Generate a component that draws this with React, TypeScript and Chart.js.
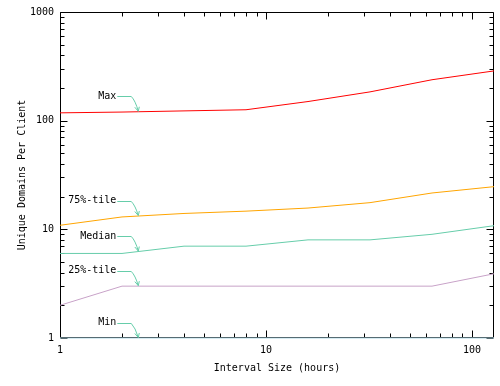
import React, { useEffect, useRef } from "react";
import { Chart, registerables } from "chart.js";

Chart.register(...registerables);

const intervals = [1, 2, 4, 8, 16, 32, 64, 128];
const maxVals = [118, 120, 123, 126, 150, 184, 238, 287];
const p75Vals = [10.9, 13, 14, 14.7, 15.7, 17.6, 21.6, 24.7];
const medianVals = [6, 6, 7, 7, 8, 8, 9, 10.8];
const p25Vals = [2, 3, 3, 3, 3, 3, 3, 3.9];
const minVals = [1, 1, 1, 1, 1, 1, 1, 1];

const seriesNames = ["Max", "75%-tile", "Median", "25%-tile", "Min"];
const seriesColors = ["#ff0000", "#ffa500", "#66cdaa", "#c8a2c8", "#add8e6"];
const labelAtX = 2.4;

const yTickLabels = ["1", "10", "100", "1000"];
const xTickLabels = ["1", "10", "100"];
const xTitle = "Interval Size (hours)";
const yTitle = "Unique Domains Per Client";

const FONT = '10px "DejaVu Sans Mono", monospace';

function interpLog(xs: number[], ys: number[], x: number): number {
  const lx = Math.log10(x);
  for (let i = 0; i < xs.length - 1; i++) {
    const a = Math.log10(xs[i]);
    const b = Math.log10(xs[i + 1]);
    if (lx >= a && lx <= b) {
      const t = (lx - a) / (b - a);
      const ya = Math.log10(ys[i]);
      const yb = Math.log10(ys[i + 1]);
      return Math.pow(10, ya + t * (yb - ya));
    }
  }
  return ys[ys.length - 1];
}

export default function App() {
  const ref = useRef<HTMLCanvasElement | null>(null);

  useEffect(() => {
    document.body.style.margin = "0";
    const canvas = ref.current;
    if (!canvas) return;
    const allSeries = [maxVals, p75Vals, medianVals, p25Vals, minVals];

    const framePlugin = {
      id: "frame",
      beforeDatasetsDraw(chart: any) {
        const { ctx, chartArea } = chart;
        const { left, right, top, bottom } = chartArea;
        const xs = chart.scales.x;
        const ys = chart.scales.y;
        ctx.save();
        ctx.strokeStyle = "#000";
        ctx.lineWidth = 1;
        ctx.beginPath();
        const L = Math.round(left) + 0.5;
        const R = Math.round(right) - 0.5;
        const T = Math.round(top) + 0.5;
        const B = Math.round(bottom) - 0.5;
        ctx.rect(L, T, R - L, B - T);
        ctx.stroke();
        // y ticks
        ctx.beginPath();
        for (let d = 1; d <= 1000; d *= 10) {
          for (let m = 1; m <= 9; m++) {
            const v = d * m;
            if (v > 1000) break;
            const py = Math.round(ys.getPixelForValue(v)) + 0.5;
            const len = m === 1 ? 7 : 4;
            ctx.moveTo(L, py);
            ctx.lineTo(L + len, py);
            ctx.moveTo(R, py);
            ctx.lineTo(R - len, py);
          }
        }
        // x ticks
        for (let d = 1; d <= 100; d *= 10) {
          for (let m = 1; m <= 9; m++) {
            const v = d * m;
            if (v > 128) break;
            const px = Math.round(xs.getPixelForValue(v)) + 0.5;
            const len = m === 1 ? 7 : 4;
            ctx.moveTo(px, B);
            ctx.lineTo(px, B - len);
            ctx.moveTo(px, T);
            ctx.lineTo(px, T + len);
          }
        }
        ctx.stroke();
        ctx.restore();
      },
      afterDraw(chart: any) {
        const { ctx, chartArea } = chart;
        const { left, right, top, bottom } = chartArea;
        const xs = chart.scales.x;
        const ys = chart.scales.y;
        ctx.save();
        ctx.font = FONT;
        ctx.fillStyle = "#000";
        // y tick labels
        ctx.textAlign = "right";
        ctx.textBaseline = "middle";
        yTickLabels.forEach((t) => {
          ctx.fillText(t, left - 6, ys.getPixelForValue(Number(t)));
        });
        // x tick labels
        ctx.textAlign = "center";
        ctx.textBaseline = "middle";
        xTickLabels.forEach((t) => {
          ctx.fillText(t, xs.getPixelForValue(Number(t)), bottom + 12);
        });
        // titles
        ctx.fillText(xTitle, (left + right) / 2, bottom + 30);
        ctx.save();
        ctx.translate(22, (top + bottom) / 2);
        ctx.rotate(-Math.PI / 2);
        ctx.fillText(yTitle, 0, 0);
        ctx.restore();
        // annotations
        const tipX = xs.getPixelForValue(labelAtX);
        seriesNames.forEach((name, i) => {
          const v = interpLog(intervals, allSeries[i], labelAtX);
          const tipY = ys.getPixelForValue(v) - 0.5;
          const ty = tipY - 15;
          ctx.fillStyle = "#000";
          ctx.textAlign = "right";
          ctx.textBaseline = "middle";
          ctx.fillText(name, tipX - 22, ty);
          ctx.strokeStyle = "#66cdaa";
          ctx.lineWidth = 1;
          ctx.beginPath();
          const hy = Math.round(ty) + 0.5;
          ctx.moveTo(tipX - 21, hy);
          ctx.lineTo(tipX - 7, hy);
          ctx.quadraticCurveTo(tipX - 3, hy + 4, tipX, tipY);
          ctx.stroke();
          ctx.beginPath();
          ctx.moveTo(tipX - 3.5, tipY - 4);
          ctx.lineTo(tipX, tipY);
          ctx.lineTo(tipX + 1, tipY - 4.5);
          ctx.stroke();
        });
        ctx.restore();
      },
    };

    const chart = new Chart(canvas, {
      type: "line",
      data: {
        labels: intervals,
        datasets: allSeries.map((vals, i) => ({
          label: seriesNames[i],
          data: intervals.map((x, j) => ({ x, y: vals[j] })),
          borderColor: seriesColors[i],
          backgroundColor: seriesColors[i],
          borderWidth: 1,
          pointRadius: 0,
          tension: 0,
          fill: false,
          clip: false as any,
        })),
      },
      options: {
        animation: false,
        responsive: false,
        maintainAspectRatio: false,
        layout: { padding: { left: 60, right: 6, top: 12, bottom: 48 } },
        plugins: { legend: { display: false }, tooltip: { enabled: false } },
        scales: {
          x: { type: "logarithmic", min: 1, max: 128, display: false },
          y: { type: "logarithmic", min: 1, max: 1000, display: false },
        },
      },
      plugins: [framePlugin],
    });
    return () => chart.destroy();
  }, []);

  return (
    <div style={{ width: 500, height: 386, background: "#fff" }}>
      <canvas ref={ref} width={500} height={386} style={{ display: "block" }} />
    </div>
  );
}
